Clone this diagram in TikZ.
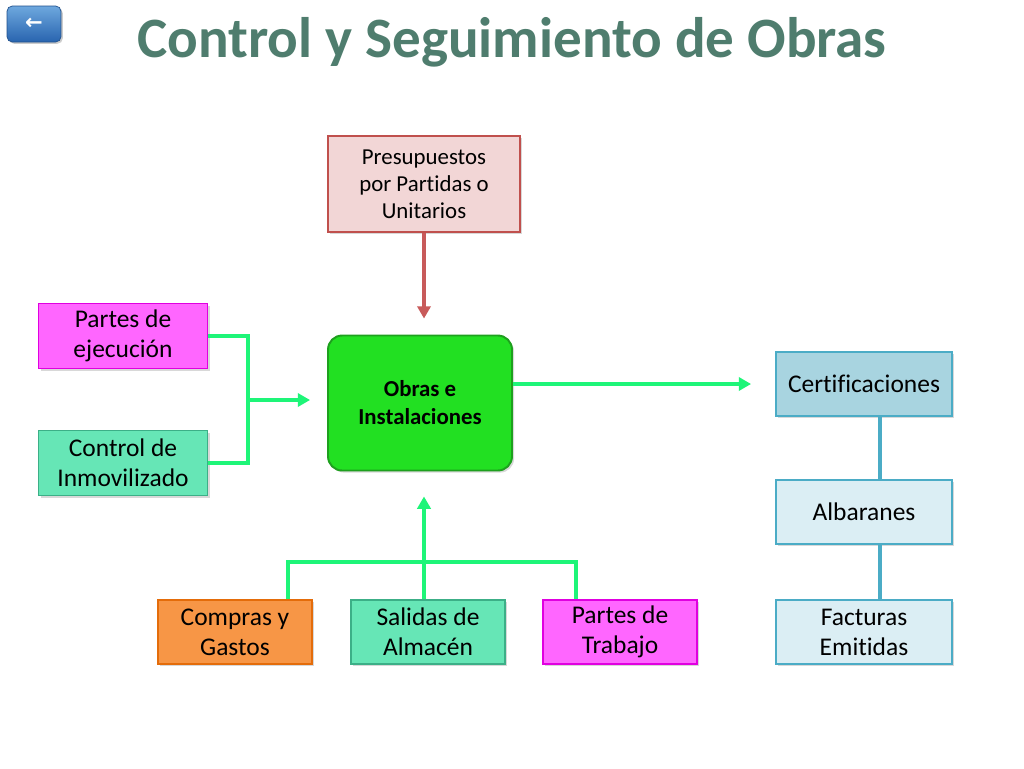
\documentclass[tikz,border=0pt]{standalone}
\usepackage{fontspec}
\setmainfont{Carlito}[Ligatures=NoCommon]
\newfontfamily\symfont{DejaVu Sans}
\usetikzlibrary{arrows.meta,shadows}

\definecolor{titlegreen}{RGB}{79,125,110}
\definecolor{presfill}{RGB}{242,214,214}
\definecolor{presline}{RGB}{192,80,77}
\definecolor{presarrow}{RGB}{200,90,90}
\definecolor{obrasfill}{RGB}{34,224,34}
\definecolor{obrasline}{RGB}{30,160,30}
\definecolor{magfill}{RGB}{255,102,255}
\definecolor{magline}{RGB}{224,0,224}
\definecolor{aquafill}{RGB}{102,230,182}
\definecolor{aqualine}{RGB}{60,175,135}
\definecolor{orangefill}{RGB}{247,150,70}
\definecolor{orangeline}{RGB}{228,108,10}
\definecolor{certfill}{RGB}{168,212,224}
\definecolor{paleblue}{RGB}{219,238,244}
\definecolor{blueline}{RGB}{75,172,198}
\definecolor{linkgreen}{RGB}{30,245,120}
\definecolor{btntop}{RGB}{110,168,222}
\definecolor{btnbottom}{RGB}{40,100,175}

\begin{document}
\begin{tikzpicture}[x=0.02cm,y=-0.02cm,
    box/.style={draw, line width=1.1pt, align=center, inner sep=2pt,
      font=\fontsize{14.5}{17}\selectfont,
      drop shadow={shadow xshift=1.2pt, shadow yshift=-1.2pt, opacity=0.3}},
    sidebox/.style={box, minimum width=3.38cm, minimum height=1.3cm},
    lowbox/.style={box, minimum width=3.08cm, minimum height=1.28cm},
    rightbox/.style={box, minimum width=3.52cm, minimum height=1.28cm, draw=blueline},
    glink/.style={draw=linkgreen, line width=2.7pt},
    garrow/.style={glink, -{Triangle[length=7pt,width=7.5pt]}},
    blink/.style={draw=blueline, line width=2.8pt}]

  \useasboundingbox (0,0) rectangle (1024,768);
  \fill[white] (0,0) rectangle (1024,768);

  \node[rounded corners=3pt, top color=btntop, bottom color=btnbottom,
        draw=btnbottom!80!black, minimum width=1.08cm, minimum height=0.72cm,
        text=white, font=\symfont\bfseries\large,
        drop shadow={shadow xshift=1pt, shadow yshift=-1pt, opacity=0.4}] (back) at (34,24) {←};
  \node[text=titlegreen, font=\bfseries\fontsize{32.5}{36}\selectfont] (ttl) at (512,42) {Control y Seguimiento de Obras};

  \node[box, fill=presfill, draw=presline, minimum width=3.84cm, minimum height=1.92cm,
        font=\fontsize{13}{15.3}\selectfont] (pres) at (424,184) {Presupuestos\\por Partidas o\\Unitarios};
  \node[box, fill=obrasfill, draw=obrasline, rounded corners=8pt, minimum width=3.68cm,
        minimum height=2.7cm, font=\bfseries\fontsize{13}{16}\selectfont] (obras) at (420,403) {Obras e\\Instalaciones};

  \node[sidebox, fill=magfill, draw=magline] (pe) at (123,336) {Partes de\\ejecución};
  \node[sidebox, fill=aquafill, draw=aqualine] (ci) at (123,463) {Control de\\Inmovilizado};

  \node[lowbox, fill=orangefill, draw=orangeline] (cg) at (235,632) {Compras y\\Gastos};
  \node[lowbox, fill=aquafill, draw=aqualine] (sa) at (428,632) {Salidas de\\Almacén};
  \node[lowbox, fill=magfill, draw=magline] (pt) at (620,632) {Partes de\\Trabajo};

  \node[rightbox, fill=certfill] (cert) at (864,384) {Certificaciones};
  \node[rightbox, fill=paleblue] (alb) at (864,512) {Albaranes};
  \node[rightbox, fill=paleblue] (fac) at (864,632) {Facturas\\Emitidas};

  \coordinate (jl) at (248,400);
  \coordinate (bl) at (288,562);
  \coordinate (bm) at (424,562);
  \coordinate (br) at (576,562);
  \coordinate (bx) at (880,0);

  \draw[draw=presarrow, line width=2.2pt, -{Triangle[length=7pt,width=7.5pt]}, shorten >=0.32cm]
    (pres.south) -- (pres.south |- obras.north);

  \draw[glink] (pe.east) -| (jl) |- (ci.east);
  \draw[garrow, shorten >=0.34cm] (jl) -- (jl -| obras.west);
  \draw[garrow, shorten >=0.48cm] (obras.east |- cert) -- (cert.west);

  \draw[glink] (bl |- cg.north) -- (bl) -- (br) -- (br |- pt.north);
  \draw[garrow, shorten >=0.5cm] (bm |- sa.north) -- (bm |- obras.south);

  \draw[blink] (bx |- cert.south) -- (bx |- alb.north);
  \draw[blink] (bx |- alb.south) -- (bx |- fac.north);
\end{tikzpicture}
\end{document}
